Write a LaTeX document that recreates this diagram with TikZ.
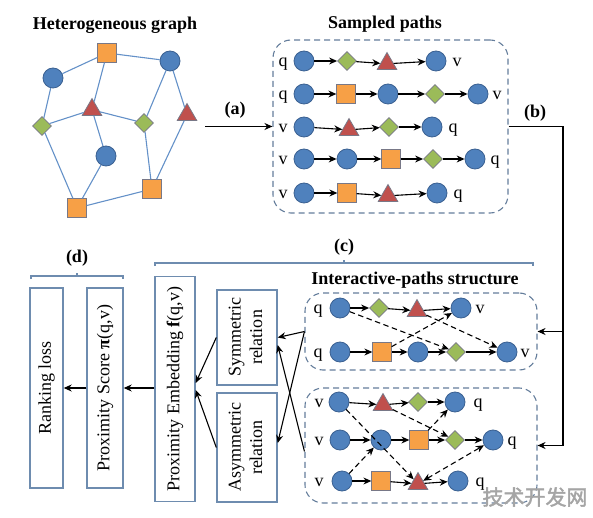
\documentclass[tikz,border=0pt]{standalone}
\usepackage{fontspec}
\setmainfont{Liberation Serif}
\newfontfamily\cjkwm[FakeBold=2]{Noto Sans CJK SC}
\usepackage{graphicx}
\usetikzlibrary{shapes.geometric,arrows.meta,calc}

\definecolor{cblue}{RGB}{79,129,189}
\definecolor{cblueb}{RGB}{58,96,145}
\definecolor{corange}{RGB}{247,160,70}
\definecolor{cgreen}{RGB}{155,187,89}
\definecolor{cred}{RGB}{192,80,77}
\definecolor{shapeb}{RGB}{120,120,135}
\definecolor{edgec}{RGB}{100,145,200}
\definecolor{boxc}{RGB}{110,140,175}
\definecolor{dashc}{RGB}{100,125,155}
\definecolor{wmc}{RGB}{165,165,165}

\tikzset{
 every node/.style={font=\fontsize{18}{21.6}\selectfont},
 circ/.style={circle, fill=cblue, draw=cblueb, line width=0.8pt, minimum size=20pt, inner sep=0pt},
 sq/.style={rectangle, fill=corange, draw=shapeb, line width=0.8pt, minimum size=18.5pt, inner sep=0pt},
 dia/.style={diamond, fill=cgreen, draw=shapeb, line width=0.8pt, minimum size=19pt, inner sep=0pt},
 tri/.style={regular polygon, regular polygon sides=3, fill=cred, draw=shapeb, line width=0.8pt, minimum size=22.5pt, inner sep=0pt, yshift=-2.8pt},
 lbl/.style={anchor=base, inner sep=0pt, yshift=-5.5pt},
 arr/.style={-{Stealth[length=8pt,width=7pt]}, line width=1.1pt},
 darr/.style={arr, dash pattern=on 5.5pt off 3.5pt},
 gedge/.style={draw=edgec, line width=1.1pt},
 dbox/.style={draw=dashc, dash pattern=on 6pt off 4pt, rounded corners=18pt, line width=1.1pt, inner sep=0pt},
 rbox/.style={draw=boxc, line width=1.4pt, inner sep=0pt},
 title/.style={font=\fontsize{18}{21.6}\selectfont\bfseries},
 brk/.style={draw=boxc, line width=1.2pt},
}

\begin{document}
\begin{tikzpicture}[x=1pt,y=-1pt]
\useasboundingbox (0,0) rectangle (593,518);

% ---------- Heterogeneous graph ----------
\node[title] (tg) at (115,25) {Heterogeneous graph};
\node[sq]   (g1)  at (107,53) {};
\node[circ] (g2)  at (53,78) {};
\node[circ] (g3)  at (170,61) {};
\node[tri]  (g4)  at (92,107) {};
\node[tri]  (g5)  at (187,112) {};
\node[dia]  (g6)  at (42,126) {};
\node[dia]  (g7)  at (144,123) {};
\node[circ] (g8)  at (106,156) {};
\node[sq]   (g9)  at (152,189) {};
\node[sq]   (g10) at (77,208) {};
\foreach \a/\b in {g1/g2,g1/g3,g1/g4,g2/g6,g6/g4,g4/g7,g4/g8,g3/g7,g3/g5,g6/g10,g8/g10,g10/g9,g7/g9,g5/g9}
  \draw[gedge] (\a) -- (\b);

% ---------- Sampled paths ----------
\node[title] (ts) at (385,24) {Sampled paths};
\node[dbox, minimum width=235pt, minimum height=173pt] (SP) at (390.5,126.5) {};

\node[lbl] (s1q) at (283,61) {q};
\node[circ] (s1a) at (304,61) {};
\node[dia]  (s1b) at (347,61) {};
\node[tri]  (s1c) at (387,61) {};
\node[circ] (s1d) at (436,61) {};
\node[lbl] (s1v) at (457,61) {v};
\draw[arr] (s1a) -- (s1b); \draw[arr] (s1b) -- (s1c); \draw[arr] (s1c) -- (s1d);

\node[lbl] (s2q) at (283,94) {q};
\node[circ] (s2a) at (304,94) {};
\node[sq]   (s2b) at (346,94) {};
\node[circ] (s2c) at (388,94) {};
\node[dia]  (s2d) at (435,94) {};
\node[circ] (s2e) at (478,94) {};
\node[lbl] (s2v) at (497,94) {v};
\draw[arr] (s2a) -- (s2b); \draw[arr] (s2b) -- (s2c); \draw[arr] (s2c) -- (s2d); \draw[arr] (s2d) -- (s2e);

\node[lbl] (s3v) at (283,127) {v};
\node[circ] (s3a) at (304,127) {};
\node[tri]  (s3b) at (349,127) {};
\node[dia]  (s3c) at (389,127) {};
\node[circ] (s3d) at (432,127) {};
\node[lbl] (s3q) at (453,127) {q};
\draw[arr] (s3a) -- (s3b); \draw[arr] (s3b) -- (s3c); \draw[arr] (s3c) -- (s3d);

\node[lbl] (s4v) at (283,159) {v};
\node[circ] (s4a) at (304,159) {};
\node[circ] (s4b) at (347,159) {};
\node[sq]   (s4c) at (391,159) {};
\node[dia]  (s4d) at (433,159) {};
\node[circ] (s4e) at (475,159) {};
\node[lbl] (s4q) at (495,159) {q};
\draw[arr] (s4a) -- (s4b); \draw[arr] (s4b) -- (s4c); \draw[arr] (s4c) -- (s4d); \draw[arr] (s4d) -- (s4e);

\node[lbl] (s5v) at (283,193) {v};
\node[circ] (s5a) at (304,193) {};
\node[sq]   (s5b) at (347,193) {};
\node[tri]  (s5c) at (388,193) {};
\node[circ] (s5d) at (437,193) {};
\node[lbl] (s5q) at (458,193) {q};
\draw[arr] (s5a) -- (s5b); \draw[arr] (s5b) -- (s5c); \draw[arr] (s5c) -- (s5d);

% ---------- (a) ----------
\coordinate (astart) at (205,126.5);
\draw[arr] (astart) -- (SP.west);
\node[title] (la) at (235,110) {(a)};

% ---------- Interactive-paths structure ----------
\node[title] (ti) at (415,280) {Interactive-paths structure};
\node[dbox, minimum width=232pt, minimum height=77pt] (IP1) at (421,331.5) {};
\node[dbox, minimum width=232pt, minimum height=115pt] (IP2) at (421,445.5) {};

\node[lbl] (i1q) at (318,308) {q};
\node[circ] (i1a) at (340,308) {};
\node[dia]  (i1b) at (379,308) {};
\node[tri]  (i1c) at (417,308) {};
\node[circ] (i1d) at (461,308) {};
\node[lbl] (i1v) at (480,308) {v};
\draw[arr] (i1a) -- (i1b); \draw[arr] (i1b) -- (i1c); \draw[arr] (i1c) -- (i1d);

\node[lbl] (i2q) at (318,352) {q};
\node[circ] (i2a) at (340,352) {};
\node[sq]   (i2b) at (382,352) {};
\node[circ] (i2c) at (418,352) {};
\node[dia]  (i2d) at (456,352) {};
\node[circ] (i2e) at (507,352) {};
\node[lbl] (i2v) at (525,352) {v};
\draw[arr] (i2a) -- (i2b); \draw[arr] (i2b) -- (i2c); \draw[arr] (i2c) -- (i2d); \draw[arr] (i2d) -- (i2e);

\draw[darr] (i1a) -- (i2d);
\draw[darr] (i1c) -- (i2e);
\draw[darr] (i2b) -- (i1d);

\node[lbl] (j1v) at (319,402) {v};
\node[circ] (j1a) at (339,402) {};
\node[tri]  (j1b) at (383,402) {};
\node[dia]  (j1c) at (418,402) {};
\node[circ] (j1d) at (455,402) {};
\node[lbl] (j1q) at (478,402) {q};
\draw[arr] (j1a) -- (j1b); \draw[arr] (j1b) -- (j1c); \draw[arr] (j1c) -- (j1d);

\node[lbl] (j2v) at (319,440) {v};
\node[circ] (j2a) at (340,440) {};
\node[circ] (j2b) at (381,440) {};
\node[sq]   (j2c) at (419,440) {};
\node[dia]  (j2d) at (455,440) {};
\node[circ] (j2e) at (493,440) {};
\node[lbl] (j2q) at (512,440) {q};
\draw[arr] (j2a) -- (j2b); \draw[arr] (j2b) -- (j2c); \draw[arr] (j2c) -- (j2d); \draw[arr] (j2d) -- (j2e);

\node[lbl] (j3v) at (319,481) {v};
\node[circ] (j3a) at (342,481) {};
\node[sq]   (j3b) at (381,481) {};
\node[tri]  (j3c) at (418,481) {};
\node[circ] (j3d) at (458,481) {};
\node[lbl] (j3q) at (480,481) {q};
\draw[arr] (j3a) -- (j3b); \draw[arr] (j3b) -- (j3c); \draw[arr] (j3c) -- (j3d);

\draw[darr] (j1a) -- (j3c);
\draw[darr] (j1b) -- (j2d);
\draw[darr] (j2c) -- (j1d);
\draw[darr] (j3a) -- (j2b);
\draw[darr, {Stealth[length=8pt,width=7pt]}-{Stealth[length=8pt,width=7pt]}] (j3c) -- (j2e);

% ---------- (b) ----------
\coordinate (bx) at (563,0);
\draw[arr] (SP.east) -- (SP.east -| bx) |- (IP2.east);
\draw[arr] (IP1.east -| bx) -- (IP1.east);
\node[title] (lb) at (535,113) {(b)};

% ---------- brackets ----------
\draw[brk] (155,266) -- (155,263) -- (533,263) -- (533,266);
\draw[brk] (344,263) -- (344,260);
\node[title] (lc) at (344,247) {(c)};
\draw[brk] (31,279) -- (31,276) -- (123,276) -- (123,279);
\draw[brk] (77,276) -- (77,273);
\node[title] (ld) at (77,258) {(d)};

% ---------- left boxes ----------
\node[rbox, minimum width=33pt, minimum height=200pt] (RL) at (46.5,388) {\rotatebox{90}{Ranking loss}};
\node[rbox, minimum width=36pt, minimum height=200pt] (PS) at (105,388) {\rotatebox{90}{Proximity Score \textbf{π}(q,v)}};
\node[rbox, minimum width=40pt, minimum height=225pt] (PE) at (175,389) {\rotatebox{90}{Proximity Embedding \textbf{f}(q,v)}};
\node[rbox, minimum width=60pt, minimum height=95pt] (SR) at (247,337.5) {\rotatebox{90}{\begin{tabular}{@{}c@{}}Symmetric\\relation\end{tabular}}};
\node[rbox, minimum width=60pt, minimum height=109pt] (AR) at (247,447.5) {\rotatebox{90}{\begin{tabular}{@{}c@{}}Asymmetric\\relation\end{tabular}}};

\draw[arr] (PS.west) -- (RL.east);
\draw[arr] (PE.west |- PS.east) -- (PS.east);
\draw[arr] (SR.west) -- ($(PE.east)+(0,-6)$);
\draw[arr] (AR.west) -- ($(PE.east)+(0,1)$);

\draw[arr] (IP1.west) -- (SR.east);
\draw[arr] (IP1.west) -- ($(AR.east)+(0,-4.5)$);
\draw[arr] ($(IP2.west)+(0,6)$) -- ($(SR.east)+(0,7.5)$);

% ---------- watermark ----------
\node[text=wmc, font=\cjkwm\fontsize{21}{21}\selectfont, inner sep=0pt] (wm) at (535,497) {技术开发网};
\end{tikzpicture}
\end{document}
